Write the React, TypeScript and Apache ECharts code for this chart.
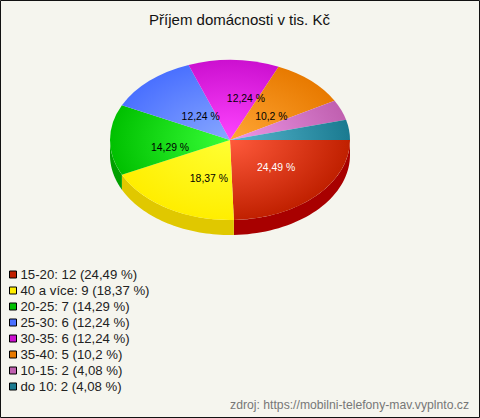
import React, { useEffect, useRef } from "react";
import * as echarts from "echarts";

const titleText = "Příjem domácnosti v tis. Kč";
const sourceText = "zdroj: https://mobilni-telefony-mav.vyplnto.cz";
const categories = ["15-20", "40 a více", "20-25", "25-30", "30-35", "35-40", "10-15", "do 10"];
const counts = [12, 9, 7, 6, 6, 5, 2, 2];
const percentLabels = ["24,49", "18,37", "14,29", "12,24", "12,24", "10,2", "4,08", "4,08"];
const showSliceLabel = [true, true, true, true, true, true, false, false];
const baseColors = ["#c02000", "#ffee00", "#00c000", "#4a70ff", "#cc10d0", "#e87a00", "#c060b0", "#1a7a90"];
const lightColors = ["#ff5a3c", "#ffff33", "#38ff38", "#88a8ff", "#ff44ff", "#ffa635", "#ee98e8", "#58b8d0"];
const sideColors = ["#a80000", "#e0c800", "#00a000", "#3050c0", "#9000a0", "#b06000", "#905088", "#105868"];
const labelColors = ["#ffffff", "#000000", "#000000", "#000000", "#000000", "#000000", "#000000", "#000000"];

const CX = 230, CY = 140, RX = 120, RY = 80, DEPTH = 15;
const labelNudge = [[3, -5], [10, -1], [0, 2], [11, 1], [14, -7], [1, 1], [0, 0], [0, 0]];

const total = counts.reduce((a, b) => a + b, 0);

function sliceSeries(i: number) {
  const before = counts.slice(0, i).reduce((a, b) => a + b, 0);
  const start = (before / total) * Math.PI * 2;
  const end = ((before + counts[i]) / total) * Math.PI * 2;
  const mid = (start + end) / 2;
  return {
    type: "custom",
    coordinateSystem: "none",
    name: `${categories[i]}: ${counts[i]} (${percentLabels[i]} %)`,
    itemStyle: { color: baseColors[i] },
    silent: true,
    data: [counts[i]],
    z: 2,
    renderItem: () => {
      const children: any[] = [];
      const wallEnd = Math.min(end, Math.PI);
      if (start < Math.PI) {
        const top: number[][] = [];
        const bottom: number[][] = [];
        const steps = 40;
        for (let s = 0; s <= steps; s++) {
          const a = start + ((wallEnd - start) * s) / steps;
          const x = CX + RX * Math.cos(a);
          const y = CY + RY * Math.sin(a);
          top.push([x, y]);
          bottom.unshift([x, y + DEPTH]);
        }
        children.push({
          type: "polygon",
          shape: { points: top.concat(bottom) },
          style: { fill: sideColors[i] },
        });
      }
      children.push({
        type: "sector",
        originX: CX,
        originY: CY,
        scaleY: RY / RX,
        shape: { cx: CX, cy: CY, r: RX, r0: 0, startAngle: start, endAngle: end, clockwise: true },
        style: {
          fill: new echarts.graphic.RadialGradient(
            CX,
            CY,
            RX,
            [
              { offset: 0, color: lightColors[i] },
              { offset: 1, color: baseColors[i] },
            ],
            true
          ),
        },
      });
      if (showSliceLabel[i]) {
        children.push({
          type: "text",
          z2: 10,
          x: CX + (RX / 2) * Math.cos(mid) + labelNudge[i][0],
          y: CY + (RY / 2) * Math.sin(mid) + 5 + labelNudge[i][1],
          style: {
            text: `${percentLabels[i]} %`,
            fill: labelColors[i],
            font: "10.4px 'Liberation Sans', Arial, sans-serif",
            align: "center",
            verticalAlign: "middle",
          },
        });
      }
      return { type: "group", children };
    },
  };
}

export default function App() {
  const ref = useRef<HTMLDivElement>(null);
  useEffect(() => {
    const chart = echarts.init(ref.current!, undefined, { renderer: "svg" });
    chart.setOption({
      animation: false,
      backgroundColor: "#f5f5ee",
      title: {
        text: titleText,
        left: 234.5,
        top: 7,
        textAlign: "center",
        textStyle: { fontFamily: "'Liberation Sans', Arial, sans-serif", fontSize: 15, fontWeight: "normal", color: "#111" },
      },
      legend: {
        orient: "vertical",
        left: 4,
        top: 263,
        itemWidth: 7,
        itemHeight: 7,
        itemGap: 3,
        icon: "rect",
        selectedMode: false,
        itemStyle: { borderColor: "#000", borderWidth: 1 },
        textStyle: { fontFamily: "'Liberation Sans', Arial, sans-serif", fontSize: 13.2, color: "#222", padding: [0, 0, 0, -1], lineHeight: 13 },
        data: categories.map((c, i) => `${c}: ${counts[i]} (${percentLabels[i]} %)`),
      },
      graphic: [
        { type: "rect", z: 0, shape: { x: 0.5, y: 0.5, width: 479, height: 417 }, style: { fill: "none", stroke: "#111", lineWidth: 1 } },
        {
          type: "text",
          x: 469,
          y: 405,
          style: { text: sourceText, fill: "#777", font: "12.2px 'Liberation Sans', Arial, sans-serif", align: "right", verticalAlign: "middle" },
        },
      ],
      series: categories.map((_, i) => sliceSeries(i)),
    });
    return () => chart.dispose();
  }, []);
  return <div ref={ref} style={{ position: "absolute", left: 0, top: 0, width: 480, height: 418 }} />;
}
